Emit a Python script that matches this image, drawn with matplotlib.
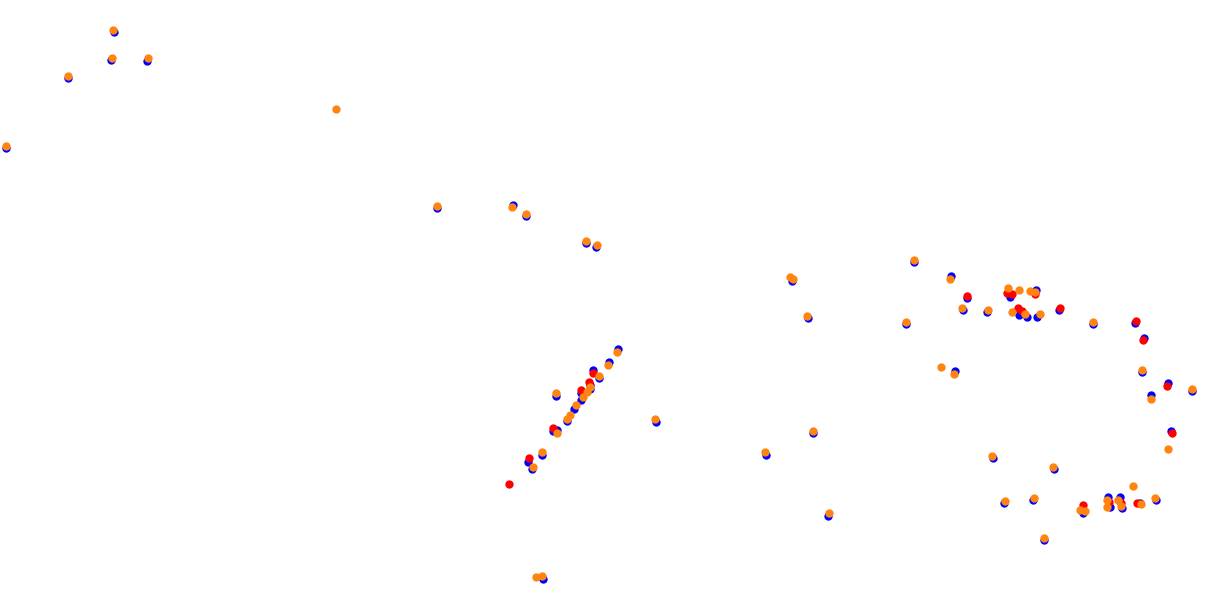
import matplotlib
matplotlib.use("Agg")
import matplotlib.pyplot as plt

# Point positions (map-like units: x to the right, y downward)
blue_x = [114, 111, 147, 68, 6, 437, 513, 526, 586, 596,
          792, 808, 914, 906, 951, 967, 963, 955, 987, 1010, 1036, 1019, 1027, 1037, 1059,
          1093, 1135, 1144, 1142, 1168, 1192, 1151, 1171,
          993, 1054, 1004, 1033, 1044, 1083,
          1108, 1110, 1120, 1122, 1140, 1156,
          656, 813, 766, 828, 543,
          618, 609, 593, 599, 590, 590, 581, 556, 581, 574, 567, 553, 557, 542, 528, 532]
blue_y = [32, 60, 61, 78, 148, 208, 205, 216, 243, 247,
          281, 318, 262, 324, 276, 298, 310, 371, 312, 297, 290, 315, 317, 317, 310,
          324, 323, 338, 372, 383, 391, 395, 431,
          458, 469, 503, 500, 540, 513,
          497, 507, 497, 508, 503, 500,
          422, 433, 455, 516, 579,
          349, 362, 370, 378, 385, 389, 393, 396, 400, 409, 421, 431, 430, 455, 462, 469]

red_x = [967, 1007, 1012, 1035, 1018, 1022, 1060,
         1136, 1143, 1167, 1172,
         1083, 1109, 1121, 1137,
         593, 589, 581, 553, 529, 509]
red_y = [296, 293, 294, 294, 308, 311, 308,
         321, 340, 386, 433,
         505, 502, 503, 503,
         373, 382, 390, 428, 458, 484]

orange_x = [113, 112, 148, 68, 6, 336, 437, 512, 526, 586, 597,
            790, 793, 807, 914, 906, 950, 962, 941, 954, 988, 1008, 1019, 1030, 1035,
            1012, 1025, 1040, 1093,
            1142, 1192, 1151, 1168,
            992, 1053, 1005, 1034, 1044, 1080, 1085,
            1133, 1107, 1107, 1118, 1121, 1141, 1155,
            655, 813, 765, 829, 536, 542,
            617, 608, 599, 590, 587, 556, 583, 576, 570, 567, 557, 542, 533]
orange_y = [30, 58, 58, 76, 146, 109, 206, 207, 214, 241, 245,
            277, 279, 316, 260, 322, 279, 308, 367, 374, 310, 288, 290, 291, 292,
            312, 314, 314, 322,
            370, 389, 399, 449,
            456, 467, 501, 498, 538, 510, 511,
            486, 500, 507, 500, 506, 504, 498,
            419, 431, 452, 513, 577, 576,
            352, 365, 376, 387, 392, 393, 397, 405, 415, 419, 433, 452, 467]

W, H = 1228, 603
fig = plt.figure(figsize=(W / 100, H / 100), dpi=100)
ax = fig.add_axes([0, 0, 1, 1])
ax.set_xlim(0, W)
ax.set_ylim(H, 0)
ax.axis("off")

s = 36
ax.scatter(blue_x, blue_y, s=s, c="#0000ff", linewidths=0, zorder=1)
ax.scatter(red_x, red_y, s=s, c="#ff0000", linewidths=0, zorder=2)
ax.scatter(orange_x, orange_y, s=s, c="#ff8410", linewidths=0, zorder=3)

fig.savefig("out.png", dpi=100, facecolor="white")
